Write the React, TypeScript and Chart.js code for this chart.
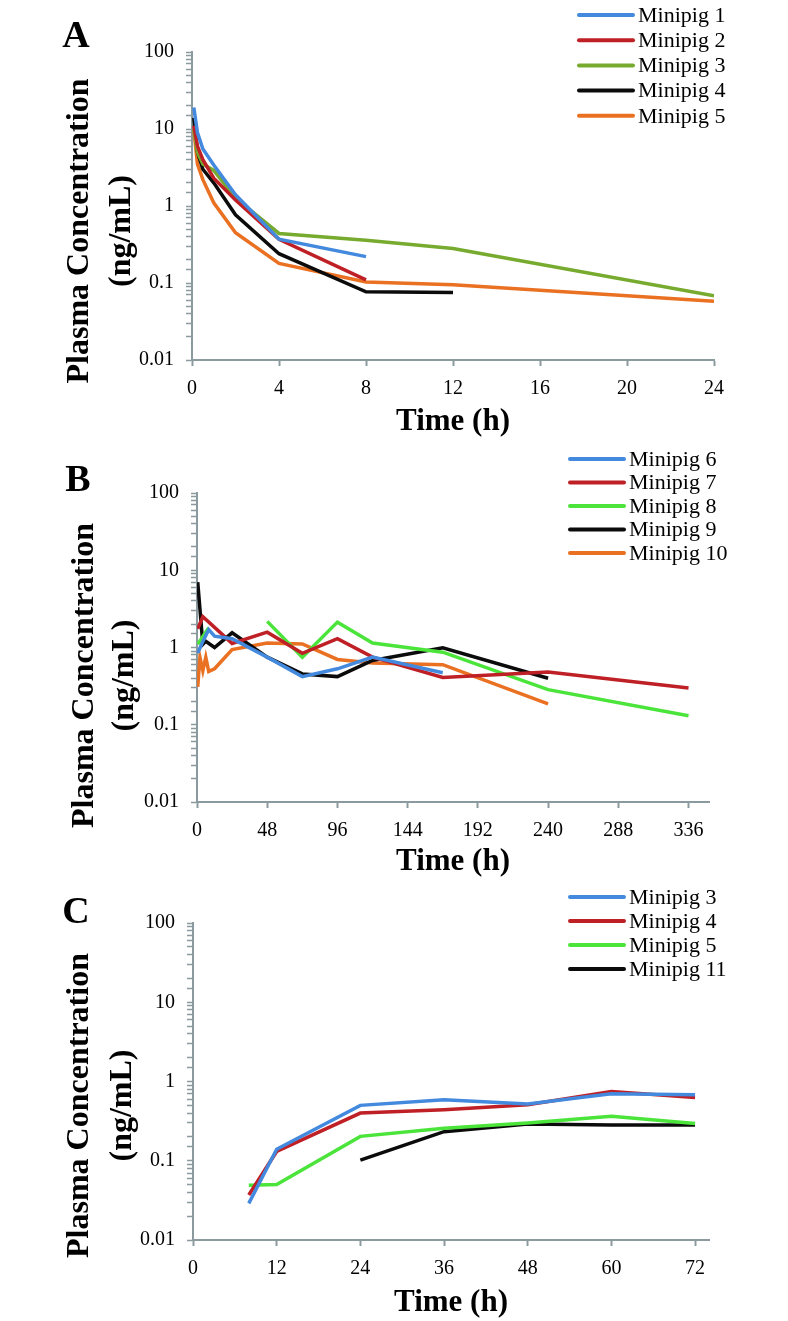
import React, { useEffect, useRef } from 'react';
import { Chart, registerables } from 'chart.js';

Chart.register(...registerables);

// ---------- Panel A ----------
const timesA = [0.083, 0.25, 0.5, 1, 2, 4, 8, 12, 24];
const labelsA = ['Minipig 1', 'Minipig 2', 'Minipig 3', 'Minipig 4', 'Minipig 5'];
const a1 = [19, 9, 5.5, 3.4, 1.4, 0.37, 0.22, null, null];
const a2 = [11, 6, 4, 2.3, 1.2, 0.37, 0.11, null, null];
const a3 = [10, 5, 3.5, 2.9, 1.27, 0.44, 0.36, 0.28, 0.068];
const a4 = [14, 5, 3, 2.0, 0.77, 0.24, 0.077, 0.075, null];
const a5 = [10, 3.5, 2.2, 1.1, 0.45, 0.18, 0.103, 0.095, 0.058];
const xTicksA = [0, 4, 8, 12, 16, 20, 24];

// ---------- Panel B ----------
// null = not sampled (line continues), NaN = line break
const timesB = [0.5, 2, 4, 6, 8, 12, 24, 48, 72, 96, 120, 144, 168, 192, 240, 336];
const labelsB = ['Minipig 6', 'Minipig 7', 'Minipig 8', 'Minipig 9', 'Minipig 10'];
const b6 = [0.85, null, 1.2, null, 1.7, 1.4, 1.3, 0.75, 0.42, 0.53, 0.75, null, 0.47, null, null, null];
const b7 = [1.75, null, 2.5, null, null, null, 1.13, 1.58, 0.84, 1.3, 0.75, null, 0.41, null, 0.48, 0.3];
const b8 = [1.1, null, null, null, 1.8, NaN, null, 2.18, 0.75, 2.13, 1.14, null, 0.87, null, 0.285, 0.131];
const b9 = [7.0, null, 1.1, 1.2, null, 1.0, 1.55, 0.75, 0.455, 0.42, 0.68, null, 0.99, null, 0.4, null];
const b10 = [0.31, 0.75, 0.5, 0.75, 0.49, 0.53, 0.94, 1.14, 1.11, 0.7, 0.63, null, 0.6, null, 0.186, null];
const xTicksB = [0, 48, 96, 144, 192, 240, 288, 336];

// ---------- Panel C ----------
const timesC = [8, 12, 24, 36, 48, 60, 72];
const labelsC = ['Minipig 3', 'Minipig 4', 'Minipig 5', 'Minipig 11'];
const c3 = [0.029, 0.14, 0.5, 0.59, 0.52, 0.7, 0.68];
const c4 = [0.037, 0.131, 0.4, 0.44, 0.51, 0.75, 0.63];
const c5 = [0.049, 0.05, 0.203, 0.257, 0.3, 0.364, 0.296];
const c11 = [null, null, 0.102, 0.233, 0.29, 0.283, 0.283];
const xTicksC = [0, 12, 24, 36, 48, 60, 72];

const yTitle = ['Plasma Concentration', '(ng/mL)'];
const xTitle = 'Time (h)';

const BLUE = '#4389de';
const RED = '#bf2026';
const OLIVE = '#77ab2f';
const BLACK = '#0b0b0b';
const ORANGE = '#ea7022';
const LIME = '#4be43b';
const AXIS = '#8a9a9f';
const FONT = '"Liberation Serif", "Times New Roman", serif';

type Val = number | null;

function pts(times: number[], vals: Val[]) {
  const out: { x: number; y: number | null }[] = [];
  times.forEach((t, i) => {
    const v = vals[i];
    if (v === null || v === undefined) return;
    out.push({ x: t, y: Number.isNaN(v) ? null : v });
  });
  return out;
}

const decorPlugin = {
  id: 'panelDecor',
  afterDraw(chart: any, _args: any, opts: any) {
    const { ctx, chartArea } = chart;
    ctx.save();
    ctx.fillStyle = '#000';
    ctx.textAlign = 'center';
    ctx.textBaseline = 'middle';
    ctx.font = `bold 38px ${FONT}`;
    ctx.fillText(opts.letter, chartArea.left + opts.letterDx, chartArea.top + opts.letterDy);
    const cy = (chartArea.top + chartArea.bottom) / 2 + opts.titleDy;
    ctx.font = `bold 32px ${FONT}`;
    yTitle.forEach((line: string, i: number) => {
      ctx.save();
      ctx.translate(chartArea.left + opts.yTitleDx[i], cy);
      ctx.rotate(-Math.PI / 2);
      ctx.fillText(line, 0, 0);
      ctx.restore();
    });
    ctx.font = `22px ${FONT}`;
    ctx.textAlign = 'left';
    chart.data.datasets.forEach((ds: any, i: number) => {
      const y = opts.legendY + i * opts.legendGap;
      ctx.strokeStyle = ds.borderColor;
      ctx.lineWidth = 4;
      ctx.lineCap = 'round';
      ctx.beginPath();
      ctx.moveTo(opts.legendX, y);
      ctx.lineTo(opts.legendX + 54, y);
      ctx.stroke();
      ctx.fillText(ds.label, opts.legendX + 59, y + 1);
    });
    ctx.restore();
  },
};

function logLabel(v: number) {
  const l = Math.log10(v);
  const e = Math.round(l);
  if (Math.abs(l - e) > 1e-6) return '';
  return e >= 0 ? String(Math.pow(10, e)) : Math.pow(10, e).toFixed(-e);
}

interface PanelProps {
  top: number;
  height: number;
  labels: string[];
  colors: string[];
  times: number[];
  series: Val[][];
  xMax: number;
  xTicks: number[];
  padTop: number;
  padRight: number;
  yWidth: number;
  xHeight: number;
  decor: any;
}

function Panel(p: PanelProps) {
  const ref = useRef<HTMLCanvasElement>(null);
  useEffect(() => {
    if (!ref.current) return;
    const chart = new Chart(ref.current, {
      type: 'line',
      data: {
        datasets: p.series.map((s, i) => ({
          label: p.labels[i],
          data: pts(p.times, s),
          borderColor: p.colors[i],
          backgroundColor: p.colors[i],
          borderWidth: 3.5,
          pointRadius: 0,
          tension: 0,
          spanGaps: false,
          fill: false,
        })),
      },
      options: {
        responsive: false,
        animation: false,
        devicePixelRatio: 1,
        layout: { padding: { top: p.padTop, right: p.padRight, left: 0, bottom: 0 } },
        plugins: {
          legend: { display: false },
          tooltip: { enabled: false },
          panelDecor: p.decor,
        } as any,
        scales: {
          x: {
            type: 'linear',
            min: 0,
            max: p.xMax,
            afterBuildTicks: (axis: any) => {
              axis.ticks = p.xTicks.map((v) => ({ value: v }));
            },
            afterFit: (s: any) => {
              s.height = p.xHeight;
            },
            grid: {
              drawOnChartArea: false,
              drawTicks: true,
              tickLength: 6,
              tickColor: AXIS,
              tickWidth: 2,
            },
            border: { display: true, color: AXIS, width: 2 },
            ticks: {
              autoSkip: false,
              maxRotation: 0,
              padding: 11,
              color: '#000',
              font: { family: FONT, size: 20 },
              callback: (v: any) => String(v),
            },
            title: {
              display: true,
              text: xTitle,
              color: '#000',
              font: { family: FONT, size: 31, weight: 'bold', lineHeight: 1 },
              padding: { top: 0, bottom: 3 },
            },
          },
          y: {
            type: 'logarithmic',
            min: 0.01,
            max: 100,
            afterFit: (s: any) => {
              s.width = p.yWidth;
            },
            grid: {
              drawOnChartArea: false,
              drawTicks: true,
              tickLength: 6,
              tickColor: AXIS,
              tickWidth: 1.5,
            },
            border: { display: true, color: AXIS, width: 2 },
            ticks: {
              autoSkip: false,
              padding: 12,
              color: '#000',
              font: { family: FONT, size: 20 },
              callback: (v: any) => logLabel(Number(v)),
            },
          },
        },
      },
      plugins: [decorPlugin as any],
    });
    return () => chart.destroy();
  }, []);
  return (
    <canvas
      ref={ref}
      width={788}
      height={p.height}
      style={{ position: 'absolute', left: 0, top: p.top, width: 788, height: p.height }}
    />
  );
}

export default function App() {
  return (
    <div style={{ position: 'absolute', left: 0, top: 0, width: 788, height: 1321, background: '#fff' }}>
      <Panel
        top={0}
        height={440}
        labels={labelsA}
        colors={[BLUE, RED, OLIVE, BLACK, ORANGE]}
        times={timesA}
        series={[a1, a2, a3, a4, a5]}
        xMax={24}
        xTicks={xTicksA}
        padTop={52}
        padRight={74}
        yWidth={192}
        xHeight={80}
        decor={{ letter: 'A', letterDx: -116, letterDy: -15, titleDy: 25, yTitleDx: [-112, -70], legendX: 579, legendY: 15, legendGap: 25.2 }}
      />
      <Panel
        top={440}
        height={440}
        labels={labelsB}
        colors={[BLUE, RED, LIME, BLACK, ORANGE]}
        times={timesB}
        series={[b6, b7, b8, b9, b10]}
        xMax={350}
        xTicks={xTicksB}
        padTop={53}
        padRight={79}
        yWidth={197}
        xHeight={78}
        decor={{ letter: 'B', letterDx: -119, letterDy: -12, titleDy: 28, yTitleDx: [-112, -72], legendX: 570, legendY: 19, legendGap: 23.5 }}
      />
      <Panel
        top={880}
        height={441}
        labels={labelsC}
        colors={[BLUE, RED, LIME, BLACK]}
        times={timesC}
        series={[c3, c4, c5, c11]}
        xMax={74}
        xTicks={xTicksC}
        padTop={43}
        padRight={79}
        yWidth={193}
        xHeight={81}
        decor={{ letter: 'C', letterDx: -117, letterDy: -10, titleDy: 24, yTitleDx: [-113, -70], legendX: 570, legendY: 17, legendGap: 24 }}
      />
    </div>
  );
}
